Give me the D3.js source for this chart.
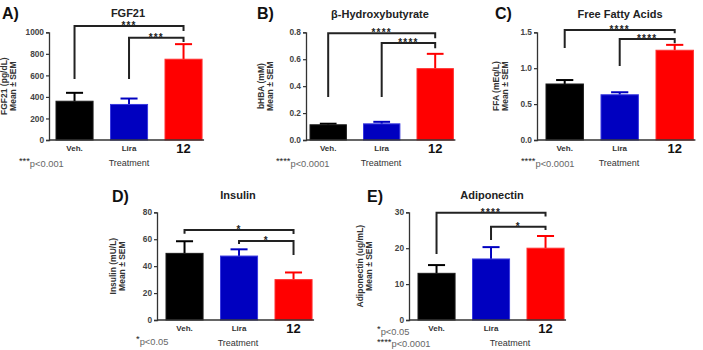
<!DOCTYPE html>
<html><head><meta charset="utf-8">
<script src="https://cdn.jsdelivr.net/npm/d3@7"></script>
<style>body{margin:0;background:#fff}svg{display:block;font-family:"Liberation Sans",Arial,sans-serif}</style>
</head><body><svg id="c" width="703" height="350"></svg>
<script>
// ---- data ----
const categories = ["Veh.", "Lira", "12"];
const fgf21Mean = [360, 330, 750];
const fgf21Sem  = [78, 55, 140];
const bhbaMean  = [0.113, 0.12, 0.53];
const bhbaSem   = [0.008, 0.015, 0.11];
const ffaMean   = [0.78, 0.63, 1.25];
const ffaSem    = [0.055, 0.035, 0.075];
const insulinMean = [49.5, 47.5, 30];
const insulinSem  = [9, 5, 5.3];
const adipoMean = [13, 17, 20];
const adipoSem  = [2.3, 3.3, 3.4];
const fgf21Ticks = [0, 200, 400, 600, 800, 1000];
const bhbaTicks = [0, 0.2, 0.4, 0.6, 0.8];
const ffaTicks = [0, 0.5, 1.0, 1.5];
const insulinTicks = [0, 20, 40, 60, 80];
const adipoTicks = [0, 10, 20, 30];
const barColors = ["#000000", "#0000c0", "#ff0000"];
const barStroke = ["#1a1a1a", "#3a3ae0", "#ff3030"];

const svg = d3.select("#c");

function panel(o) {
  const g = svg.append("g");
  const y = d3.scaleLinear().domain([0, o.max]).range([o.yBot, o.yTop]);
  const step = o.step;
  const x = d3.scaleBand().domain(categories)
    .range([o.barLeft - 0.16 * step, o.barLeft - 0.16 * step + 3 * step])
    .paddingInner(0.32).paddingOuter(0.16);
  const bw = x.bandwidth();
  // letter + title
  g.append("text").attr("x", o.letterX).attr("y", o.letterY).text(o.letter)
    .attr("font-size", 16).attr("font-weight", "bold").attr("fill", "#111");
  g.append("text").attr("x", o.titleX).attr("y", o.titleY).text(o.title)
    .attr("text-anchor", "middle").attr("font-size", 11).attr("font-weight", "bold").attr("fill", "#222");
  // bars
  o.mean.forEach((m, i) => {
    const c = categories[i];
    const cx = x(c) + bw / 2;
    g.append("line").attr("x1", cx).attr("x2", cx).attr("y1", y(m)).attr("y2", y(m + o.sem[i]))
      .attr("stroke", barColors[i]).attr("stroke-width", 2);
    g.append("line").attr("x1", cx - bw * 0.23).attr("x2", cx + bw * 0.23)
      .attr("y1", y(m + o.sem[i])).attr("y2", y(m + o.sem[i]))
      .attr("stroke", barColors[i]).attr("stroke-width", 2);
    g.append("rect").attr("x", x(c)).attr("y", y(m)).attr("width", bw).attr("height", y(0) - y(m))
      .attr("fill", barColors[i]).attr("stroke", barStroke[i]).attr("stroke-width", 1);
  });
  // y axis
  const ya = g.append("g").attr("transform", `translate(${o.axisX},0)`)
    .call(d3.axisLeft(y).tickValues(o.ticks).tickSize(3).tickPadding(2)
      .tickFormat(o.fmt));
  ya.select(".domain").attr("stroke", "#333").attr("stroke-width", 1.3);
  ya.selectAll(".tick line").attr("stroke", "#333").attr("stroke-width", 1.2);
  ya.selectAll("text").attr("font-size", 8.3).attr("font-weight", "bold").attr("fill", "#444")
    .attr("font-family", "Liberation Sans, Arial, sans-serif");
  // x axis line
  g.append("line").attr("x1", o.axisX).attr("x2", x.range()[1] - 0.16 * step + 2)
    .attr("y1", o.yBot).attr("y2", o.yBot).attr("stroke", "#333").attr("stroke-width", 1.3);
  categories.forEach((c, i) => {
    const big = i === 2;
    g.append("text").attr("x", x(c) + bw / 2).attr("y", o.yBot + (big ? 12.5 : 10.5)).text(c)
      .attr("text-anchor", "middle").attr("font-size", big ? 13 : 8).attr("font-weight", "bold")
      .attr("fill", big ? "#111" : "#333");
  });
  g.append("text").attr("x", o.treatX).attr("y", o.yBot + 26).text("Treatment")
    .attr("text-anchor", "middle").attr("font-size", 9).attr("fill", "#333");
  // y label
  const ly = (o.yTop + o.yBot) / 2;
  o.ylab.forEach((t, k) => {
    g.append("text").attr("transform", `translate(${o.ylabX + k * 8.5},${ly}) rotate(-90)`)
      .text(t).attr("text-anchor", "middle").attr("font-size", 8.5).attr("font-weight", "bold")
      .attr("fill", "#333");
  });
  // brackets
  o.brackets.forEach(b => {
    const x1 = x(categories[b.from]) + bw / 2, x2 = x(categories[b.to]) + bw / 2;
    const path = `M${x1},${y(b.leftEnd)}V${y(b.at)}H${x2}V${y(b.rightEnd)}`;
    g.append("path").attr("d", path).attr("fill", "none").attr("stroke", "#222").attr("stroke-width", 2);
    g.append("text").attr("x", (x1 + x2) / 2).attr("y", y(b.at) + 3).text(b.label)
      .attr("text-anchor", "middle").attr("font-size", 10).attr("font-weight", "bold")
      .attr("letter-spacing", 1.2).attr("fill", "#222");
  });
  // p notes
  o.notes.forEach(n => {
    const t = g.append("text").attr("x", n.x).attr("y", n.y).attr("font-size", 9.3);
    t.append("tspan").text(n.stars).attr("fill", "#222").attr("dy", 0);
    t.append("tspan").text(n.p).attr("fill", "#666").attr("dy", 2.5);
  });
}

panel({letter: "A)", letterX: 2, letterY: 19, title: "FGF21", titleX: 128, titleY: 17,
  mean: fgf21Mean, sem: fgf21Sem, ticks: fgf21Ticks, max: 1000, fmt: d3.format("d"),
  axisX: 49, barLeft: 56, step: 54.5, yTop: 32.3, yBot: 140, treatX: 129, ylabX: 7,
  ylab: ["FGF21 (pg/dL)", "Mean \u00b1 SEM"],
  brackets: [{from: 0, to: 2, at: 1058, leftEnd: 566, rightEnd: 1012, label: "***"},
             {from: 1, to: 2, at: 950, leftEnd: 566, rightEnd: 910, label: "***"}],
  notes: [{x: 19, y: 164, stars: "***", p: "p<0.001"}]});

panel({letter: "B)", letterX: 257, letterY: 19, title: "\u03b2-Hydroxybutyrate", titleX: 380, titleY: 18,
  mean: bhbaMean, sem: bhbaSem, ticks: bhbaTicks, max: 0.8, fmt: d3.format(".1f"),
  axisX: 306, barLeft: 310, step: 53.5, yTop: 32.3, yBot: 140, treatX: 381, ylabX: 264,
  ylab: ["bHBA (mM)", "Mean \u00b1 SEM"],
  brackets: [{from: 0, to: 2, at: 0.793, leftEnd: 0.319, rightEnd: 0.755, label: "****"},
             {from: 1, to: 2, at: 0.72, leftEnd: 0.319, rightEnd: 0.681, label: "****"}],
  notes: [{x: 276, y: 164, stars: "****", p: "p<0.0001"}]});

panel({letter: "C)", letterX: 495, letterY: 19, title: "Free Fatty Acids", titleX: 620, titleY: 18,
  mean: ffaMean, sem: ffaSem, ticks: ffaTicks, max: 1.5, fmt: d3.format(".1f"),
  axisX: 537, barLeft: 546, step: 55, yTop: 32.3, yBot: 140, treatX: 619, ylabX: 499,
  ylab: ["FFA (mEq/L)", "Mean \u00b1 SEM"],
  brackets: [{from: 0, to: 2, at: 1.532, leftEnd: 1.281, rightEnd: 1.486, label: "****"},
             {from: 1, to: 2, at: 1.407, leftEnd: 1.031, rightEnd: 1.347, label: "****"}],
  notes: [{x: 521, y: 164, stars: "****", p: "p<0.0001"}]});

panel({letter: "D)", letterX: 112, letterY: 202, title: "Insulin", titleX: 238, titleY: 199,
  mean: insulinMean, sem: insulinSem, ticks: insulinTicks, max: 80, fmt: d3.format("d"),
  axisX: 157, barLeft: 166, step: 54.5, yTop: 212.3, yBot: 320, treatX: 238, ylabX: 116,
  ylab: ["Insulin (mU/L)", "Mean \u00b1 SEM"],
  brackets: [{from: 0, to: 2, at: 66.9, leftEnd: 64.1, rightEnd: 63.9, label: "*"},
             {from: 1, to: 2, at: 58.7, leftEnd: 56.5, rightEnd: 48.3, label: "*"}],
  notes: [{x: 136, y: 342, stars: "*", p: "p<0.05"}]});

panel({letter: "E)", letterX: 367, letterY: 202, title: "Adiponectin", titleX: 492, titleY: 199,
  mean: adipoMean, sem: adipoSem, ticks: adipoTicks, max: 30, fmt: d3.format("d"),
  axisX: 409, barLeft: 418, step: 54.5, yTop: 212.3, yBot: 320, treatX: 510, ylabX: 363,
  ylab: ["Adiponectin (ug/mL)", "Mean \u00b1 SEM"],
  brackets: [{from: 0, to: 2, at: 29.9, leftEnd: 18.4, rightEnd: 28.8, label: "****"},
             {from: 1, to: 2, at: 26.0, leftEnd: 22.3, rightEnd: 25.1, label: "*"}],
  notes: [{x: 377, y: 332, stars: "*", p: "p<0.05"},
          {x: 377, y: 344.5, stars: "****", p: "p<0.0001"}]});
</script></body></html>
